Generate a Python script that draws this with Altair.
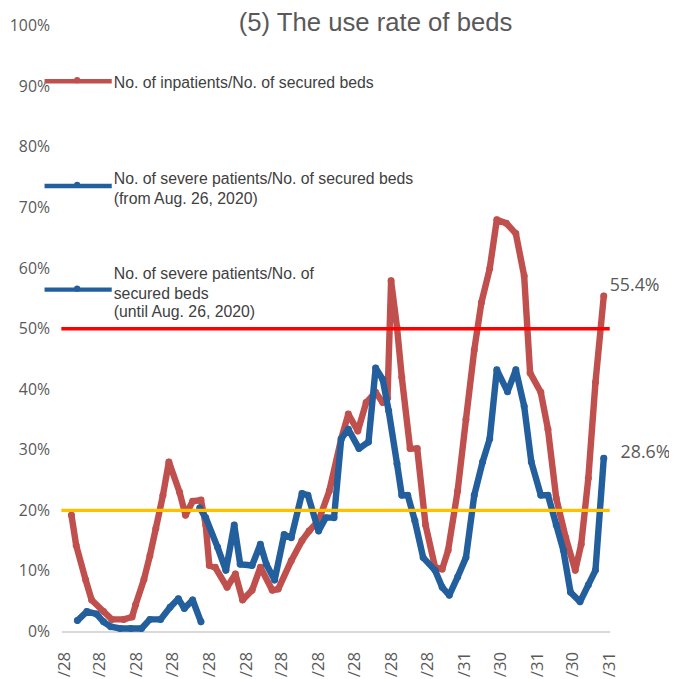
import altair as alt
import pandas as pd

title_text = "(5) The use rate of beds"

# x positions are days counted from the first labelled date
tick_days = [0, 30, 61, 91, 122, 153, 183, 214, 244, 275, 306, 337, 367, 398, 428, 459]
tick_labels = ["/28"] * 11 + ["/31", "/30", "/31", "/30", "/31"]

red_days = [6, 10, 18, 23, 33, 40, 50, 57, 60, 67,
            72, 77, 83, 88, 97, 102, 108, 115, 119, 122,
            127, 137, 144, 150, 158, 165, 175, 180, 191, 200,
            206, 214, 223, 233, 239, 247, 254, 262, 268, 272,
            275, 280, 284, 291, 297, 304, 312, 318, 323, 331,
            338, 345, 351, 358, 364, 372, 380, 387, 392, 401,
            407, 414, 422, 430, 435, 441, 447, 454]
red_vals = [19.2, 14.2, 8.5, 5.2, 3.3, 2.0, 2.0, 2.4, 4.4, 8.6,
            12.5, 17.0, 22.5, 28.0, 23.0, 19.2, 21.5, 21.7, 17.6, 10.9,
            10.6, 7.3, 9.5, 5.2, 6.8, 10.6, 6.8, 7.0, 11.7, 15.0,
            16.6, 18.3, 23.2, 31.8, 35.9, 33.1, 37.8, 39.5, 37.8, 38.5,
            57.9, 50.2, 42.0, 30.2, 30.2, 17.6, 10.6, 10.3, 13.4, 23.2,
            35.0, 46.5, 54.3, 59.9, 68.0, 67.4, 65.7, 58.7, 42.7, 39.5,
            33.4, 22.0, 15.5, 10.1, 14.4, 25.3, 41.1, 55.4]

blue_old_days = [11, 19, 27, 33, 39, 47, 56, 65, 72, 81, 89, 96, 101, 108, 115]
blue_old_vals = [1.8, 3.3, 2.9, 1.6, 0.8, 0.5, 0.5, 0.5, 2.0, 2.0, 4.0, 5.4, 3.8, 5.2, 1.6]

blue_new_days = [114, 119, 129, 136, 143, 148, 158, 165, 170, 177,
                 185, 191, 200, 205, 214, 220, 227, 233, 239, 248,
                 256, 262, 268, 273, 280, 284, 289, 295, 302, 312,
                 318, 324, 331, 338, 345, 352, 358, 364, 373, 380,
                 387, 393, 401, 407, 414, 420, 426, 434, 441, 447, 454]
blue_new_vals = [20.4, 18.8, 13.9, 10.1, 17.6, 11.1, 10.9, 14.4, 11.1, 8.5,
                 16.0, 15.5, 22.8, 22.5, 16.6, 18.8, 18.8, 31.8, 33.4, 30.2,
                 31.3, 43.5, 41.6, 36.4, 27.7, 22.5, 22.5, 18.3, 12.2, 10.1,
                 7.3, 6.0, 9.0, 12.2, 22.5, 28.0, 31.8, 43.2, 39.6, 43.2,
                 37.2, 28.0, 22.5, 22.5, 17.6, 13.4, 6.5, 4.9, 7.7, 10.1, 28.6]

threshold_vals = [50, 20]

legend_texts = [
    ["No. of inpatients/No. of secured beds"],
    ["No. of severe patients/No. of secured beds", "(from Aug. 26, 2020)"],
    ["No. of severe patients/No. of", "secured beds", "(until Aug. 26, 2020)"],
]

RED = "#C0504D"
BLUE = "#235F9D"
GRAY = "#595959"
TXT = "#404040"
NUMFONT = "Open Sans"
TXTFONT = "Liberation Sans"

x_scale = alt.Scale(domain=[-2.5, 459], nice=False, zero=False)
y_scale = alt.Scale(domain=[0, 100], nice=False, zero=True)

label_expr = ("[" + ",".join(f"'{l}'" for l in tick_labels) + "][indexof(["
              + ",".join(str(d) for d in tick_days) + "], datum.value)]")

x_axis = alt.Axis(values=tick_days, labelExpr=label_expr, labelAngle=270,
                  labelAlign="right", labelBaseline="middle", labelPadding=20,
                  labelFontSize=17, labelFont=NUMFONT, labelColor=GRAY,
                  ticks=False, grid=False, domainColor="#D9D9D9", domainWidth=2,
                  labelOverlap=False, title=None)
y_axis = alt.Axis(values=list(range(0, 101, 10)), labelExpr="datum.value + '%'",
                  labelFontSize=16, labelFont=NUMFONT, labelColor=GRAY,
                  labelPadding=12, ticks=False, grid=False, domain=False, title=None)


def xe(field="day"):
    return alt.X(f"{field}:Q", scale=x_scale, axis=x_axis)


def ye(field="value"):
    return alt.Y(f"{field}:Q", scale=y_scale, axis=y_axis)


red_df = pd.DataFrame({"day": red_days, "value": red_vals})
bo_df = pd.DataFrame({"day": blue_old_days, "value": blue_old_vals})
bn_df = pd.DataFrame({"day": blue_new_days, "value": blue_new_vals})
thr_df = pd.DataFrame({"value": threshold_vals, "c": ["#FF0000", "#FFC000"]})


def series(df, color):
    return alt.Chart(df).mark_line(
        color=color, strokeWidth=6.5, strokeJoin="round", strokeCap="round",
        point=alt.OverlayMarkDef(filled=True, size=50, color=color, opacity=1),
    ).encode(x=xe(), y=ye())


red_line = series(red_df, RED)
blue_old = series(bo_df, BLUE)
blue_new = series(bn_df, BLUE)

thresholds = alt.Chart(thr_df).mark_rule(strokeWidth=3.5).encode(
    y=ye(), color=alt.Color("c:N", scale=None, legend=None))

end_red = alt.Chart(red_df.tail(1).assign(lab=lambda d: d["value"].map(lambda v: f"{v:.1f}%"))).mark_text(
    align="left", baseline="middle", dx=6, dy=-10, fontSize=18, font=NUMFONT, color=GRAY
).encode(x=xe(), y=ye(), text="lab:N")
end_blue = alt.Chart(bn_df.tail(1).assign(lab=lambda d: d["value"].map(lambda v: f"{v:.1f}%"))).mark_text(
    align="left", baseline="middle", dx=17, dy=-5, fontSize=18, font=NUMFONT, color=GRAY
).encode(x=xe(), y=ye(), text="lab:N")

one = pd.DataFrame({"a": [0]})

title = alt.Chart(one).mark_text(
    align="center", baseline="alphabetic", fontSize=26, font=TXTFONT, color=GRAY
).encode(x=alt.value(318), y=alt.value(5), text=alt.value(title_text))

legend_layers = []
leg_colors = [RED, BLUE, BLUE]
leg_rule_y = [56, 162, 267]
leg_text_y = [[58], [155, 175], [251, 271, 290]]
for col, ry, lines, tys in zip(leg_colors, leg_rule_y, legend_texts, leg_text_y):
    legend_layers.append(alt.Chart(one).mark_rule(color=col, strokeWidth=4.5).encode(
        x=alt.value(-17), x2=alt.value(51), y=alt.value(ry)))
    legend_layers.append(alt.Chart(one).mark_point(filled=True, size=40, color=col, opacity=1).encode(
        x=alt.value(16), y=alt.value(ry - 1)))
    for line, ty in zip(lines, tys):
        legend_layers.append(alt.Chart(one).mark_text(
            align="left", baseline="middle", fontSize=16, font=TXTFONT, color=TXT
        ).encode(x=alt.value(53), y=alt.value(ty), text=alt.value(line)))

chart = alt.layer(
    red_line, blue_old, blue_new, thresholds, end_red, end_blue, title, *legend_layers
).properties(
    width=555, height=613,
    autosize=alt.AutoSizeParams(type="none"),
    padding={"left": 54, "top": 14, "right": 60, "bottom": 44},
).configure_view(stroke=None)

chart.save("out.html", embed_options={"renderer": "svg", "actions": False})
